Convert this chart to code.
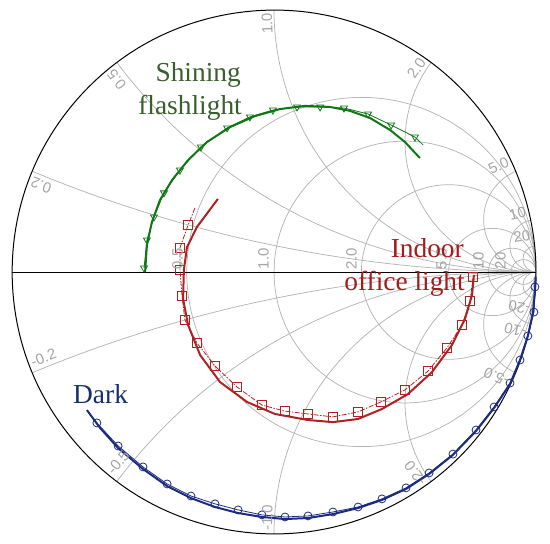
\documentclass[border=0pt]{standalone}
\usepackage{fontspec}
\setmainfont{Liberation Serif}
\setsansfont{Liberation Sans}
\usepackage{pgfplots}
\pgfplotsset{compat=1.18}
\usepgfplotslibrary{smithchart}
\definecolor{cgreen}{HTML}{0E7614}
\definecolor{tgreen}{HTML}{385F2C}
\definecolor{cred}{HTML}{B02222}
\definecolor{tred}{HTML}{A11D1D}
\definecolor{cblue}{HTML}{1C2A80}
\definecolor{tblue}{HTML}{14306C}
\definecolor{gridgray}{HTML}{B4B4B4}
\definecolor{labgray}{HTML}{A4A4A4}

\begin{document}
\begin{tikzpicture}
\begin{smithchart}[
 width=524bp, scale only axis,
 xtick={0.5,1,2,5,10,20},
 ytick={-20,-10,-5,-2,-1,-0.5,-0.2,0.2,0.5,1,2,5,10,20},
 xmajorticks=false,ymajorticks=false,
 xmajorgrids=true,ymajorgrids=true,
 minor xtick={},minor ytick={},
 show origin=false,show origin code/.code={},
 grid style={color=gridgray,line width=0.75pt},
 axis line style={black,line width=1pt},
 clip=false]

% real axis
\addplot[black,line width=1pt,is smithchart cs] coordinates {(-1,0) (1,0)};

% shining flashlight: fit
\addplot[cgreen,line width=2pt,is smithchart cs] coordinates {
 (-0.492,0) (-0.485,0.103) (-0.466,0.191) (-0.435,0.275) (-0.389,0.351)
 (-0.328,0.427) (-0.256,0.496) (-0.168,0.553) (-0.073,0.595) (0.023,0.622)
 (0.118,0.634) (0.214,0.630) (0.290,0.615) (0.366,0.588) (0.443,0.542)
 (0.500,0.496) (0.557,0.435)};
% shining flashlight: measured
\addplot[cgreen,line width=0.8pt,mark=triangle,mark size=4pt,
 mark options={rotate=180,solid},mark indices={1,2,3,4,5,6,7,8,9,10,11,12,13,14,15},
 is smithchart cs] coordinates {
 (-0.496,0.015) (-0.485,0.122) (-0.458,0.210) (-0.420,0.302) (-0.359,0.389)
 (-0.279,0.477) (-0.179,0.550) (-0.092,0.592) (-0.004,0.618) (0.088,0.630)
 (0.176,0.630) (0.267,0.626) (0.359,0.603) (0.447,0.561) (0.538,0.515)
 (0.569,0.485)};

% indoor office light: fit
\addplot[cred,line width=2pt,is smithchart cs] coordinates {
 (-0.214,0.279) (-0.294,0.172) (-0.332,0.095) (-0.344,0.008) (-0.347,-0.103)
 (-0.328,-0.202) (-0.282,-0.317) (-0.206,-0.420) (-0.103,-0.496) (0.004,-0.542)
 (0.130,-0.565) (0.225,-0.573) (0.321,-0.561) (0.412,-0.523) (0.511,-0.466)
 (0.603,-0.382) (0.679,-0.279) (0.729,-0.179) (0.756,-0.088) (0.763,-0.011)};
% indoor office light: measured
\addplot[cred,line width=0.8pt,dash pattern=on 5pt off 1.5pt on 1.5pt off 1.5pt,
 mark=square,mark size=4.5pt,mark options={solid},
 mark indices={2,3,4,5,6,7,8,9,10,11,12,13,14,15,16,17,18,19,20,21},
 is smithchart cs] coordinates {
 (-0.302,0.244) (-0.328,0.179) (-0.359,0.092) (-0.359,0.008) (-0.351,-0.092)
 (-0.340,-0.183) (-0.294,-0.271) (-0.225,-0.359) (-0.141,-0.439) (-0.046,-0.508)
 (0.042,-0.531) (0.130,-0.542) (0.225,-0.553) (0.321,-0.534) (0.408,-0.496)
 (0.500,-0.450) (0.588,-0.378) (0.660,-0.290) (0.718,-0.202) (0.748,-0.111)
 (0.760,-0.019)};

% dark: fit
\addplot[cblue,line width=2pt,is smithchart cs] coordinates {
 (-0.714,-0.527) (-0.664,-0.595) (-0.595,-0.672) (-0.500,-0.752) (-0.408,-0.817)
 (-0.317,-0.863) (-0.225,-0.897) (-0.137,-0.920) (-0.046,-0.935) (0.042,-0.943)
 (0.130,-0.939) (0.225,-0.924) (0.321,-0.901) (0.412,-0.870) (0.504,-0.828)
 (0.592,-0.771) (0.683,-0.698) (0.771,-0.607) (0.840,-0.519) (0.901,-0.427)
 (0.939,-0.336) (0.969,-0.244) (0.989,-0.153) (0.996,-0.069) (0.999,-0.019)};
% dark: measured
\addplot[cblue,line width=0.8pt,mark=o,mark size=4pt,mark options={solid},
 mark indices={1,2,3,4,5,6,7,8,9,10,11,12,13,14,15,16,17,18,19,20,21,22,23},
 is smithchart cs] coordinates {
 (-0.676,-0.576) (-0.595,-0.664) (-0.500,-0.744) (-0.408,-0.809) (-0.317,-0.855)
 (-0.225,-0.885) (-0.137,-0.908) (-0.046,-0.927) (0.042,-0.935) (0.130,-0.931)
 (0.225,-0.916) (0.321,-0.897) (0.412,-0.866) (0.504,-0.824) (0.592,-0.767)
 (0.683,-0.695) (0.771,-0.603) (0.840,-0.515) (0.901,-0.424) (0.939,-0.336)
 (0.969,-0.244) (0.992,-0.153) (0.996,-0.057) (0.998,-0.015)};
\end{smithchart}

\path ([shift={(-274bp,-272bp)}]current axis.center) rectangle ([shift={(276bp,272bp)}]current axis.center);

% grid labels
\begin{scope}[every node/.style={font=\fontsize{15}{18}\sffamily,text=labgray,inner sep=0pt}]
% reactance, positive
\node[rotate=159.6,anchor=east] at ([shift={(159.6:259bp)}]current axis.center) {0.2};
\node[rotate=129.3,anchor=east] at ([shift={(129.3:259bp)}]current axis.center) {0.5};
\node[rotate=91.6,anchor=east] at ([shift={(91.6:259bp)}]current axis.center) {1.0};
\node[rotate=55,anchor=east] at ([shift={(55:259bp)}]current axis.center) {2.0};
\node[rotate=25.3,anchor=east] at ([shift={(25.3:259bp)}]current axis.center) {5.0};
\node[rotate=13.5,anchor=east] at ([shift={(13.5:259bp)}]current axis.center) {10};
\node[rotate=8.2,anchor=east] at ([shift={(8.2:259bp)}]current axis.center) {20};
% reactance, negative
\node[rotate=20.4,anchor=west] at ([shift={(-159.6:259bp)}]current axis.center) {-0.2};
\node[rotate=50.7,anchor=west] at ([shift={(-129.3:259bp)}]current axis.center) {-0.5};
\node[rotate=88.4,anchor=west] at ([shift={(-91.6:259bp)}]current axis.center) {-1.0};
\node[rotate=125,anchor=west] at ([shift={(-55:259bp)}]current axis.center) {-2.0};
\node[rotate=154.7,anchor=west] at ([shift={(-25.3:259bp)}]current axis.center) {-5.0};
\node[rotate=166.5,anchor=west] at ([shift={(-13.5:259bp)}]current axis.center) {-10};
\node[rotate=171.8,anchor=west] at ([shift={(-8.2:259bp)}]current axis.center) {-20};
% resistance
\node[rotate=90,anchor=south west] at ([shift={(-91bp,2.5bp)}]current axis.center) {0.5};
\node[rotate=90,anchor=south west] at ([shift={(-5bp,2.5bp)}]current axis.center) {1.0};
\node[rotate=90,anchor=south west] at ([shift={(83bp,2.5bp)}]current axis.center) {2.0};
\node[rotate=90,anchor=south west] at ([shift={(173bp,2.5bp)}]current axis.center) {5.0};
\node[rotate=90,anchor=south west] at ([shift={(210bp,2.5bp)}]current axis.center) {10};
\node[rotate=90,anchor=south west] at ([shift={(232bp,2.5bp)}]current axis.center) {20};
\end{scope}

\begin{scope}[font=\fontsize{27.5}{33}\selectfont]
\node[anchor=base east,text=tgreen,inner sep=0pt] at ([shift={(-33bp,190bp)}]current axis.center) {Shining};
\node[anchor=base east,text=tgreen,inner sep=0pt] at ([shift={(-32bp,157bp)}]current axis.center) {flashlight};
\node[anchor=base east,text=tred,inner sep=0pt] at ([shift={(190bp,14bp)}]current axis.center) {Indoor};
\node[anchor=base east,text=tred,inner sep=0pt] at ([shift={(191bp,-19bp)}]current axis.center) {office light};
\node[anchor=base west,text=tblue,inner sep=0pt] at ([shift={(-201bp,-132bp)}]current axis.center) {Dark};
\end{scope}
\end{tikzpicture}
\end{document}
